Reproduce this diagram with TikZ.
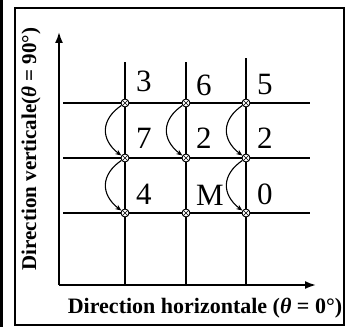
\documentclass[tikz,border=0pt]{standalone}
\usepackage{fontspec}
\setmainfont{Liberation Serif}
\usetikzlibrary{arrows.meta, bending, calc}

\begin{document}
\begin{tikzpicture}[
        x=1pt, y=1pt,
        frame/.style={draw, line width=1.6pt},
        axis/.style={line width=1.8pt, -{Latex[length=11pt, width=8pt]}},
        grid/.style={line width=1.2pt},
        crossnode/.style={draw, circle, fill=white, line width=0.9pt, minimum size=8pt, inner sep=0pt,
            path picture={\draw[line width=0.6pt] (path picture bounding box.north west) -- (path picture bounding box.south east)
                (path picture bounding box.north east) -- (path picture bounding box.south west);}},
        jump/.style={line width=1.1pt, -{Stealth[length=6pt, width=5pt, flex]}},
        num/.style={anchor=base west, inner sep=0pt, font=\fontsize{31}{31}\selectfont},
        axlabel/.style={font=\bfseries\fontsize{21}{21}\selectfont, inner sep=0pt}
    ]

    % page and frame
    \useasboundingbox (0,0) rectangle (352,327);
    \fill (0,0) rectangle (3,327);

    % axes
    \coordinate (origin) at (59,42);
    \draw[axis] (origin) -- (59,295) coordinate (ytip);
    \draw[axis] (origin) -- (316,42) coordinate (xtip);

    % horizontal grid lines
    \foreach \y in {224, 169, 114} {
        \draw[grid] (63,\y) -- (310,\y);
    }

    % vertical grid lines and crossing points
    \foreach \i/\x/\top in {1/125/265, 2/186/265, 3/246/269} {
        \draw[grid] (\x,42) -- (\x,\top);
        \foreach \j/\y in {1/224, 2/169, 3/114} {
            \node[crossnode] (p\i\j) at (\x,\y) {};
        }
    }

    % values
    \node[num] (v11) at ($(p11)+(11,11)$) {3};
    \node[num] (v21) at ($(p21)+(10,7)$) {6};
    \node[num] (v31) at ($(p31)+(11,9)$) {5};
    \node[num] (v12) at ($(p12)+(11,10)$) {7};
    \node[num] (v22) at ($(p22)+(10,10)$) {2};
    \node[num] (v32) at ($(p32)+(11,10)$) {2};
    \node[num] (v13) at ($(p13)+(11,9)$) {4};
    \node[num] (v23) at ($(p23)+(10,8)$) {M};
    \node[num] (v33) at ($(p33)+(11,9)$) {0};

    % jumps between points
    \draw[jump] (p11) .. controls +(-25,-17) and +(-25,17) .. (p12);
    \draw[jump] (p12) .. controls +(-25,-17) and +(-25,17) .. (p13);
    \draw[jump] (p21) .. controls +(-25,-17) and +(-25,17) .. (p22);
    \draw[jump] (p31) .. controls +(-25,-17) and +(-25,17) .. (p32);
    \draw[jump] (p32) .. controls +(-25,-17) and +(-25,17) .. (p33);

    % axis labels
    \node[axlabel, rotate=90] (ylab) at (31,178) {Direction verticale(\textit{θ} = 90°)};
    \node[axlabel, font=\bfseries\fontsize{22}{22}\selectfont] (xlab) at (205,19) {Direction horizontale (\textit{θ} = 0°)};

    % frame on top
    \draw[frame] (15,2) rectangle (344,319);

\end{tikzpicture}
\end{document}
